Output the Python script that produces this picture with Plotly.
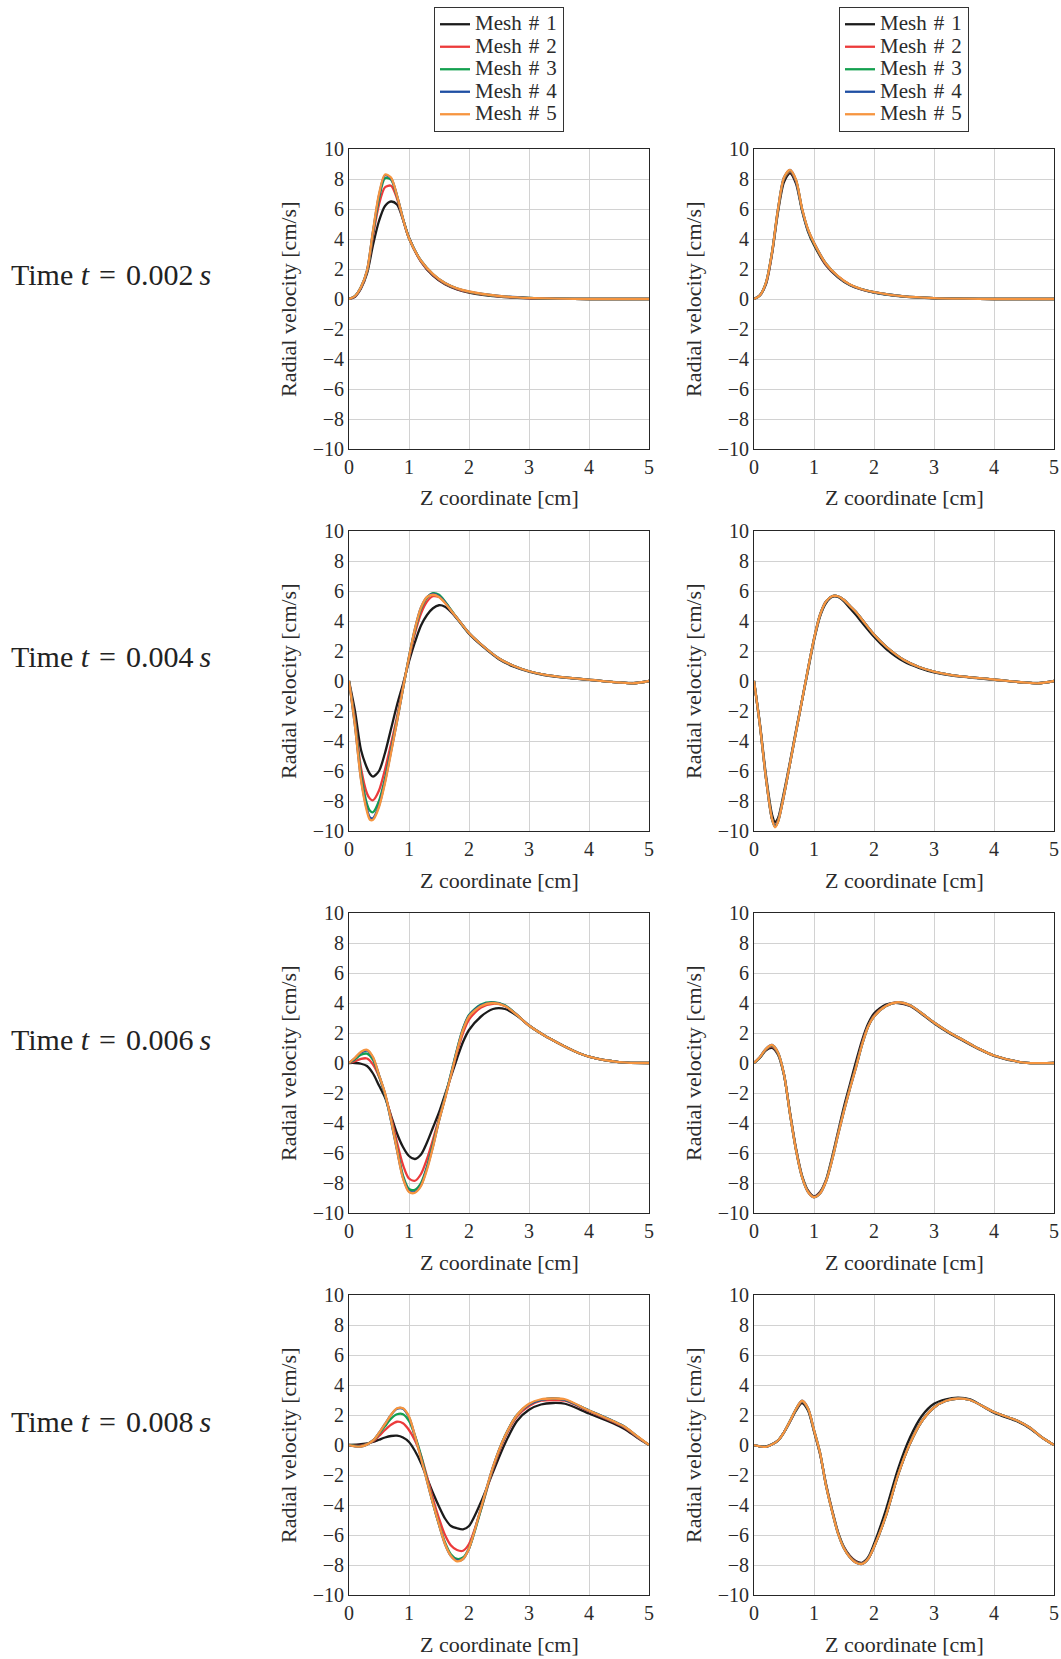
import plotly.graph_objects as go

# ---------------- data ----------------
MESH_NAMES = ["Mesh\u2004#\u20041", "Mesh\u2004#\u20042", "Mesh\u2004#\u20043", "Mesh\u2004#\u20044", "Mesh\u2004#\u20045"]
MESH_COLORS = ["#1b1b1b", "#ec3b3b", "#13a04f", "#1f4fa3", "#f6953f"]
TIME_LABELS = ["0.002", "0.004", "0.006", "0.008"]
X_TICKS = [0, 1, 2, 3, 4, 5]
Y_TICKS = [-10, -8, -6, -4, -2, 0, 2, 4, 6, 8, 10]

# t = 0.002 s
z_t002 = [0, 0.1, 0.2, 0.3, 0.4, 0.5, 0.6, 0.7, 0.8, 0.9, 1.0, 1.2, 1.4, 1.6, 1.8, 2.0, 2.5, 3.0, 3.5, 4.0, 4.5, 5.0]
left_t002_m1 = [0, 0.15, 0.7, 1.7, 3.6, 5.2, 6.2, 6.5, 6.3, 5.3, 4.1, 2.5, 1.55, 0.98, 0.64, 0.43, 0.16, 0.05, 0.01, 0, 0, 0]
left_t002_m2 = [0, 0.18, 0.75, 1.8, 4.2, 6.3, 7.45, 7.55, 6.7, 5.3, 4.05, 2.5, 1.6, 1.02, 0.67, 0.46, 0.18, 0.06, 0.015, 0, 0, 0]
left_t002_m3 = [0, 0.2, 0.8, 1.85, 4.4, 6.7, 8.05, 7.95, 6.85, 5.35, 4.05, 2.55, 1.65, 1.05, 0.7, 0.48, 0.19, 0.07, 0.02, 0, 0, 0]
left_t002_m4 = [0, 0.2, 0.8, 1.9, 4.5, 6.9, 8.25, 8.05, 6.9, 5.35, 4.05, 2.55, 1.65, 1.06, 0.7, 0.49, 0.2, 0.07, 0.02, 0, 0, 0]
left_t002_m5 = [0, 0.2, 0.8, 1.9, 4.55, 7.0, 8.3, 8.1, 6.9, 5.35, 4.05, 2.55, 1.66, 1.06, 0.71, 0.5, 0.2, 0.07, 0.02, 0, 0, 0]
right_t002_m1 = [0, 0.25, 1.0, 3.0, 5.8, 7.8, 8.4, 7.7, 5.9, 4.5, 3.6, 2.25, 1.45, 0.92, 0.62, 0.43, 0.16, 0.05, 0.015, 0, 0, 0]
right_t002_m2 = [0, 0.25, 1.05, 3.05, 5.9, 8.0, 8.5, 7.85, 6.0, 4.6, 3.7, 2.3, 1.5, 0.95, 0.64, 0.45, 0.17, 0.06, 0.02, 0, 0, 0]
right_t002_m3 = [0, 0.25, 1.1, 3.1, 5.95, 8.05, 8.55, 7.9, 6.0, 4.6, 3.7, 2.35, 1.5, 0.95, 0.65, 0.45, 0.17, 0.06, 0.02, 0, 0, 0]
right_t002_m4 = [0, 0.25, 1.1, 3.1, 6.0, 8.1, 8.6, 7.9, 6.0, 4.6, 3.75, 2.35, 1.5, 0.95, 0.65, 0.45, 0.17, 0.06, 0.02, 0, 0, 0]
right_t002_m5 = [0, 0.25, 1.1, 3.1, 6.0, 8.1, 8.6, 7.95, 6.05, 4.65, 3.75, 2.35, 1.52, 0.96, 0.65, 0.46, 0.17, 0.06, 0.02, 0, 0, 0]

# t = 0.004 s
z_t004 = [0, 0.1, 0.2, 0.3, 0.35, 0.4, 0.5, 0.6, 0.7, 0.8, 0.9, 1.0, 1.1, 1.2, 1.3, 1.4, 1.5, 1.6, 1.7, 1.8, 2.0, 2.2, 2.5, 2.75, 3.0, 3.25, 3.5, 4.0, 4.5, 4.75, 5.0]
left_t004_m1 = [0, -2.0, -4.6, -5.8, -6.2, -6.38, -6.0, -4.8, -3.2, -1.6, -0.2, 1.3, 2.6, 3.7, 4.4, 4.85, 5.05, 4.95, 4.6, 4.15, 3.15, 2.4, 1.45, 0.95, 0.62, 0.4, 0.26, 0.08, -0.1, -0.15, 0]
left_t004_m2 = [0, -2.6, -5.8, -7.5, -7.85, -7.95, -7.3, -5.9, -4.2, -2.4, -0.4, 1.5, 3.2, 4.5, 5.3, 5.65, 5.6, 5.25, 4.7, 4.2, 3.2, 2.45, 1.5, 1.0, 0.65, 0.42, 0.28, 0.09, -0.1, -0.15, 0]
left_t004_m3 = [0, -2.8, -6.2, -8.2, -8.65, -8.75, -8.0, -6.5, -4.6, -2.6, -0.5, 1.6, 3.4, 4.8, 5.55, 5.85, 5.75, 5.3, 4.75, 4.2, 3.2, 2.45, 1.5, 1.0, 0.65, 0.42, 0.28, 0.09, -0.1, -0.15, 0]
left_t004_m4 = [0, -3.0, -6.5, -8.55, -9.1, -9.15, -8.3, -6.7, -4.7, -2.7, -0.5, 1.6, 3.5, 4.9, 5.6, 5.8, 5.65, 5.25, 4.7, 4.2, 3.2, 2.45, 1.5, 1.0, 0.65, 0.42, 0.28, 0.09, -0.1, -0.15, 0]
left_t004_m5 = [0, -3.0, -6.6, -8.7, -9.25, -9.25, -8.4, -6.8, -4.8, -2.7, -0.5, 1.6, 3.5, 4.9, 5.6, 5.75, 5.6, 5.2, 4.7, 4.2, 3.2, 2.45, 1.5, 1.0, 0.65, 0.42, 0.28, 0.09, -0.1, -0.15, 0]
right_t004_m1 = [0, -2.9, -6.3, -8.9, -9.4, -9.15, -7.4, -5.4, -3.3, -1.3, 0.7, 2.7, 4.3, 5.2, 5.6, 5.6, 5.3, 4.85, 4.4, 3.9, 2.95, 2.15, 1.3, 0.88, 0.58, 0.4, 0.27, 0.08, -0.1, -0.15, 0]
right_t004_m2 = [0, -3.0, -6.5, -9.2, -9.6, -9.3, -7.6, -5.5, -3.4, -1.3, 0.8, 2.8, 4.4, 5.3, 5.65, 5.65, 5.4, 5.0, 4.6, 4.1, 3.1, 2.3, 1.4, 0.93, 0.62, 0.42, 0.29, 0.1, -0.1, -0.15, 0]
right_t004_m3 = [0, -3.0, -6.5, -9.2, -9.68, -9.35, -7.6, -5.5, -3.4, -1.3, 0.8, 2.8, 4.4, 5.3, 5.65, 5.65, 5.4, 5.0, 4.6, 4.1, 3.1, 2.3, 1.4, 0.93, 0.62, 0.42, 0.29, 0.1, -0.1, -0.15, 0]
right_t004_m4 = [0, -3.0, -6.5, -9.2, -9.72, -9.38, -7.6, -5.5, -3.4, -1.3, 0.8, 2.8, 4.4, 5.3, 5.65, 5.65, 5.4, 5.0, 4.6, 4.1, 3.1, 2.3, 1.4, 0.93, 0.62, 0.42, 0.29, 0.1, -0.1, -0.15, 0]
right_t004_m5 = [0, -3.0, -6.5, -9.2, -9.75, -9.4, -7.6, -5.5, -3.4, -1.3, 0.8, 2.8, 4.4, 5.3, 5.65, 5.65, 5.4, 5.0, 4.6, 4.1, 3.1, 2.3, 1.4, 0.93, 0.62, 0.42, 0.29, 0.1, -0.1, -0.15, 0]

# t = 0.006 s
z_t006 = [0, 0.1, 0.2, 0.3, 0.4, 0.5, 0.6, 0.7, 0.8, 0.9, 1.0, 1.1, 1.2, 1.3, 1.4, 1.5, 1.6, 1.7, 1.8, 1.9, 2.0, 2.2, 2.4, 2.6, 2.8, 3.0, 3.25, 3.5, 3.75, 4.0, 4.5, 5.0]
left_t006_m1 = [0, 0, -0.05, -0.2, -0.7, -1.5, -2.3, -3.5, -4.7, -5.6, -6.2, -6.4, -6.1, -5.3, -4.3, -3.3, -2.1, -0.9, 0.3, 1.4, 2.2, 3.1, 3.6, 3.6, 3.15, 2.5, 1.85, 1.3, 0.8, 0.42, 0.06, 0]
left_t006_m2 = [0, 0.12, 0.28, 0.3, -0.1, -0.9, -2.1, -3.6, -5.3, -6.8, -7.7, -7.85, -7.4, -6.4, -5.1, -3.7, -2.3, -0.8, 0.7, 2.0, 2.9, 3.7, 3.95, 3.8, 3.2, 2.5, 1.85, 1.3, 0.8, 0.42, 0.06, 0]
left_t006_m3 = [0, 0.25, 0.55, 0.62, 0.2, -0.85, -2.1, -3.8, -5.7, -7.5, -8.4, -8.45, -8.0, -6.9, -5.4, -3.8, -2.3, -0.7, 0.9, 2.3, 3.2, 3.9, 4.05, 3.85, 3.2, 2.5, 1.85, 1.3, 0.8, 0.42, 0.06, 0]
left_t006_m4 = [0, 0.33, 0.7, 0.82, 0.35, -0.8, -2.05, -3.85, -5.8, -7.65, -8.55, -8.6, -8.15, -7.0, -5.55, -3.85, -2.35, -0.75, 0.85, 2.25, 3.15, 3.85, 4.02, 3.82, 3.2, 2.5, 1.85, 1.3, 0.8, 0.42, 0.06, 0]
left_t006_m5 = [0, 0.35, 0.75, 0.88, 0.4, -0.8, -2.0, -3.8, -5.8, -7.7, -8.6, -8.65, -8.2, -7.1, -5.6, -3.85, -2.4, -0.8, 0.8, 2.2, 3.1, 3.8, 4.0, 3.8, 3.2, 2.5, 1.85, 1.3, 0.8, 0.42, 0.06, 0]
right_t006_m1 = [0, 0.35, 0.85, 1.0, 0.55, -0.8, -3.3, -5.7, -7.5, -8.5, -8.9, -8.6, -7.8, -6.3, -4.6, -2.9, -1.4, 0.1, 1.5, 2.6, 3.3, 3.9, 4.0, 3.8, 3.25, 2.65, 2.0, 1.45, 0.92, 0.48, 0.03, 0]
right_t006_m2 = [0, 0.38, 0.9, 1.1, 0.62, -0.78, -3.35, -5.75, -7.55, -8.55, -8.92, -8.65, -7.85, -6.4, -4.7, -3.1, -1.6, -0.2, 1.3, 2.45, 3.15, 3.82, 4.03, 3.84, 3.3, 2.7, 2.05, 1.5, 0.95, 0.5, 0.03, 0]
right_t006_m3 = [0, 0.39, 0.92, 1.15, 0.66, -0.76, -3.38, -5.78, -7.58, -8.58, -8.94, -8.68, -7.88, -6.45, -4.75, -3.15, -1.65, -0.25, 1.22, 2.42, 3.12, 3.8, 4.04, 3.85, 3.3, 2.7, 2.05, 1.5, 0.95, 0.5, 0.03, 0]
right_t006_m4 = [0, 0.4, 0.95, 1.2, 0.7, -0.75, -3.4, -5.8, -7.6, -8.6, -8.95, -8.7, -7.9, -6.5, -4.8, -3.2, -1.7, -0.3, 1.2, 2.4, 3.1, 3.8, 4.05, 3.85, 3.3, 2.7, 2.05, 1.5, 0.95, 0.5, 0.03, 0]
right_t006_m5 = [0, 0.4, 0.95, 1.2, 0.7, -0.75, -3.4, -5.8, -7.6, -8.6, -8.95, -8.7, -7.9, -6.5, -4.8, -3.2, -1.7, -0.3, 1.2, 2.4, 3.1, 3.8, 4.05, 3.85, 3.3, 2.7, 2.05, 1.5, 0.95, 0.5, 0.03, 0]

# t = 0.008 s
z_t008 = [0, 0.2, 0.4, 0.5, 0.6, 0.7, 0.8, 0.9, 1.0, 1.1, 1.2, 1.3, 1.4, 1.5, 1.6, 1.7, 1.8, 1.9, 2.0, 2.2, 2.4, 2.6, 2.8, 3.0, 3.2, 3.4, 3.6, 4.0, 4.4, 4.6, 4.8, 5.0]
left_t008_m1 = [0, 0.05, 0.2, 0.35, 0.5, 0.6, 0.62, 0.5, 0.2, -0.4, -1.2, -2.2, -3.2, -4.1, -4.9, -5.4, -5.55, -5.62, -5.4, -3.8, -1.8, 0.1, 1.6, 2.35, 2.7, 2.8, 2.75, 2.1, 1.45, 1.05, 0.5, 0]
left_t008_m2 = [0, -0.05, 0.25, 0.6, 1.0, 1.35, 1.55, 1.45, 1.0, 0.3, -0.7, -2.1, -3.6, -4.9, -6.0, -6.7, -7.0, -7.05, -6.6, -4.3, -1.6, 0.5, 1.9, 2.6, 2.95, 3.0, 2.95, 2.25, 1.55, 1.15, 0.55, 0]
left_t008_m3 = [0, -0.08, 0.3, 0.75, 1.25, 1.75, 2.05, 2.05, 1.6, 0.6, -0.7, -2.3, -3.9, -5.3, -6.5, -7.3, -7.6, -7.5, -6.9, -4.3, -1.5, 0.6, 2.0, 2.7, 3.0, 3.1, 3.0, 2.3, 1.6, 1.2, 0.58, 0]
left_t008_m4 = [0, -0.1, 0.3, 0.8, 1.4, 2.0, 2.42, 2.42, 1.85, 0.6, -0.85, -2.4, -3.9, -5.3, -6.6, -7.4, -7.7, -7.6, -6.9, -4.2, -1.45, 0.6, 2.0, 2.7, 3.0, 3.1, 3.0, 2.3, 1.6, 1.2, 0.58, 0]
left_t008_m5 = [0, -0.1, 0.3, 0.8, 1.4, 2.0, 2.45, 2.45, 1.9, 0.6, -0.9, -2.4, -3.9, -5.3, -6.6, -7.4, -7.75, -7.6, -6.9, -4.2, -1.45, 0.6, 2.0, 2.75, 3.05, 3.1, 3.05, 2.3, 1.6, 1.2, 0.6, 0]
right_t008_m1 = [0, -0.1, 0.3, 0.85, 1.55, 2.3, 2.8, 2.3, 0.9, -0.6, -2.6, -4.3, -5.8, -6.8, -7.4, -7.75, -7.85, -7.5, -6.6, -4.3, -1.6, 0.5, 1.95, 2.75, 3.05, 3.15, 3.05, 2.15, 1.55, 1.1, 0.5, 0]
right_t008_m2 = [0, -0.12, 0.3, 0.85, 1.58, 2.35, 2.9, 2.4, 0.95, -0.55, -2.65, -4.35, -5.85, -6.85, -7.45, -7.8, -7.9, -7.6, -6.8, -4.7, -2.0, 0.1, 1.6, 2.5, 2.95, 3.1, 3.0, 2.2, 1.6, 1.15, 0.5, 0]
right_t008_m3 = [0, -0.12, 0.3, 0.85, 1.6, 2.38, 2.93, 2.42, 0.98, -0.52, -2.68, -4.38, -5.88, -6.88, -7.48, -7.83, -7.92, -7.6, -6.8, -4.7, -2.0, 0.1, 1.6, 2.5, 2.95, 3.1, 3.0, 2.2, 1.6, 1.15, 0.5, 0]
right_t008_m4 = [0, -0.12, 0.3, 0.85, 1.6, 2.4, 2.95, 2.45, 1.0, -0.5, -2.7, -4.4, -5.9, -6.9, -7.5, -7.85, -7.93, -7.6, -6.8, -4.7, -2.0, 0.1, 1.6, 2.5, 2.95, 3.1, 3.0, 2.2, 1.6, 1.15, 0.5, 0]
right_t008_m5 = [0, -0.12, 0.3, 0.85, 1.6, 2.4, 2.95, 2.45, 1.0, -0.5, -2.7, -4.4, -5.9, -6.9, -7.5, -7.85, -7.93, -7.6, -6.8, -4.7, -2.0, 0.1, 1.6, 2.5, 2.95, 3.1, 3.0, 2.2, 1.6, 1.15, 0.5, 0]

ROWS = [
    (z_t002, [left_t002_m1, left_t002_m2, left_t002_m3, left_t002_m4, left_t002_m5],
             [right_t002_m1, right_t002_m2, right_t002_m3, right_t002_m4, right_t002_m5]),
    (z_t004, [left_t004_m1, left_t004_m2, left_t004_m3, left_t004_m4, left_t004_m5],
             [right_t004_m1, right_t004_m2, right_t004_m3, right_t004_m4, right_t004_m5]),
    (z_t006, [left_t006_m1, left_t006_m2, left_t006_m3, left_t006_m4, left_t006_m5],
             [right_t006_m1, right_t006_m2, right_t006_m3, right_t006_m4, right_t006_m5]),
    (z_t008, [left_t008_m1, left_t008_m2, left_t008_m3, left_t008_m4, left_t008_m5],
             [right_t008_m1, right_t008_m2, right_t008_m3, right_t008_m4, right_t008_m5]),
]

# ---------------- layout geometry (pixels) ----------------
W, H = 1061, 1659
COL_LEFT = [349, 754]
ROW_TOP = [149, 531, 913, 1295]
PW, PH = 300, 300
FONT = "Liberation Serif, Times New Roman, serif"
TXT = "#2b2b2b"

fig = go.Figure()
layout = dict(
    width=W, height=H, autosize=False,
    margin=dict(l=0, r=0, t=0, b=0, pad=0, autoexpand=False),
    paper_bgcolor="white", plot_bgcolor="white",
    font=dict(family=FONT, color=TXT, size=20),
    annotations=[],
)

for r, (z, left_series, right_series) in enumerate(ROWS):
    for c, series in enumerate([left_series, right_series]):
        k = r * 2 + c + 1
        xa, ya = f"x{k}", f"y{k}"
        for m, vals in enumerate(series):
            fig.add_trace(go.Scatter(
                x=z, y=vals, mode="lines",
                name=f'<span style="font-size:21px">{MESH_NAMES[m]}</span>',
                line=dict(color=MESH_COLORS[m], width=2.3, shape="spline", smoothing=0.8),
                xaxis=xa, yaxis=ya,
                showlegend=(r == 0), legend=("legend" if c == 0 else "legend2"),
            ))
        L, T = COL_LEFT[c], ROW_TOP[r]
        xd = [L / W, (L + PW) / W]
        yd = [1 - (T + PH) / H, 1 - T / H]
        axis_common = dict(
            showline=True, mirror=True, linecolor="#262626", linewidth=1,
            showgrid=True, gridcolor="#d2d2d2", gridwidth=1, zeroline=False,
            ticks="", tickfont=dict(family=FONT, size=20, color=TXT), automargin=False,
        )
        layout[f"xaxis{k}"] = dict(axis_common, domain=xd, anchor=ya, range=[0, 5],
                                   tickvals=X_TICKS)
        layout[f"yaxis{k}"] = dict(axis_common, domain=yd, anchor=xa, range=[-10, 10],
                                   tickvals=Y_TICKS)
        layout["annotations"].append(dict(
            text="Z coordinate [cm]", xref="paper", yref="paper",
            x=(L + PW / 2) / W, y=1 - (T + PH + 49) / H, xanchor="center", yanchor="middle",
            showarrow=False, font=dict(family=FONT, size=22, color=TXT)))
        layout["annotations"].append(dict(
            text="Radial velocity [cm/s]", xref="paper", yref="paper", textangle=-90,
            x=(L - 61) / W, y=1 - (T + PH / 2) / H, xanchor="center", yanchor="middle",
            showarrow=False, font=dict(family=FONT, size=22, color=TXT)))
    layout["annotations"].append(dict(
        text=f"Time <i>t</i>\u2004=\u2004{TIME_LABELS[r]}\u2009<i>s</i>", xref="paper", yref="paper",
        x=9 / W, y=1 - (ROW_TOP[r] + 126) / H, xanchor="left", yanchor="middle",
        showarrow=False, font=dict(family=FONT, size=30, color="#222222")))

legend_common = dict(
    xref="paper", yref="paper", xanchor="center", yanchor="top", y=1 - 7 / H,
    bgcolor="white", bordercolor="#333333", borderwidth=1,
    font=dict(family=FONT, size=15, color=TXT), itemwidth=30, tracegroupgap=0,
    traceorder="normal",
)
layout["legend"] = dict(legend_common, x=(COL_LEFT[0] + PW / 2) / W)
layout["legend2"] = dict(legend_common, x=(COL_LEFT[1] + PW / 2) / W)

fig.update_layout(**layout)
fig.write_html("out.html", config={"displayModeBar": False})
